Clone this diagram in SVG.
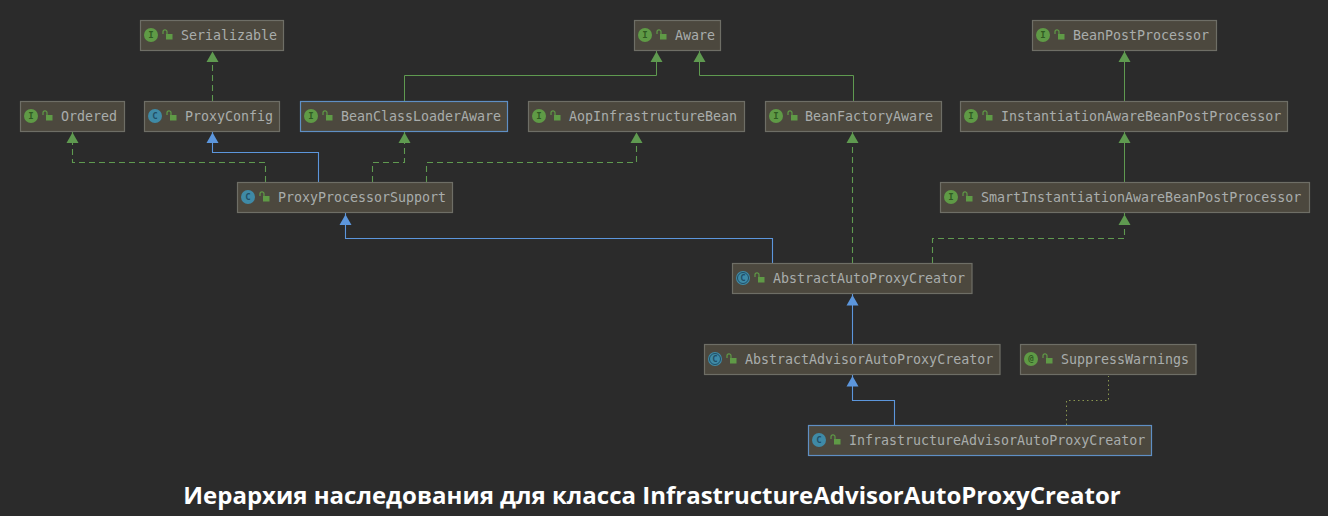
<svg xmlns="http://www.w3.org/2000/svg" width="1328" height="516" viewBox="0 0 1328 516">
<style>
.b{fill:#4c483e;stroke:#6e6e66;stroke-width:1.2}
.s{fill:#4c483e;stroke:#5f8fc4;stroke-width:1.2}
.t{font-family:"DejaVu Sans Mono","Liberation Mono",monospace;font-size:13.3px;fill:#a9adac}
.k{font-family:"DejaVu Sans Mono",monospace;font-size:9px;font-weight:bold;text-anchor:middle}
.ci{fill:#5f9a46}.cc{fill:#3f8aa6}
.ki{fill:#2f5a22}.kc{fill:#1f4f66}
.lk{fill:#5f9a46}.ls{fill:none;stroke:#5f9a46;stroke-width:1.2}
.g{fill:none;stroke:#5f9a50;stroke-width:1.1;stroke-dasharray:6 4}
.gs{fill:none;stroke:#5f9a50;stroke-width:1}
.u{fill:none;stroke:#5c96dc;stroke-width:1.1}
.d{fill:none;stroke:#8a9650;stroke-width:1;stroke-dasharray:1.5 3}
.ah{fill:#5f9a50}.ab{fill:#5c96dc}
.cap{font-family:"Open Sans","Noto Sans",sans-serif;font-size:24px;font-weight:700;fill:#fff;text-anchor:middle}
</style>
<defs>
<g id="lock"><rect class="lk" x="4" y="-1" width="6.5" height="5.5"/><path class="ls" d="M1 -1v-2.2a2 2 0 0 1 4 0v2.2"/></g>
</defs>
<rect width="1328" height="516" fill="#2b2b2b"/>
<g id="connectors">
<path class="g" d="M212.500 101V50"/><path class="ah" d="M212.500 51.500l-6 10.500h12z"/>
<path class="g" d="M265.500 182V162.500H72.500V131"/><path class="ah" d="M72.500 132.500l-6 10.500h12z"/>
<path class="u" d="M318.500 182V152.500H212.500V131"/><path class="ab" d="M212.500 132.500l-6 10.500h12z"/>
<path class="g" d="M372.500 182V162.500H404.500V131"/><path class="ah" d="M404.500 132.500l-6 10.500h12z"/>
<path class="g" d="M426.500 182V162.500H636.500V131"/><path class="ah" d="M636.500 132.500l-6 10.500h12z"/>
<path class="gs" d="M404.500 101V75.500H656.500V50"/><path class="ah" d="M656.500 51.500l-6 10.500h12z"/>
<path class="gs" d="M853.500 101V75.500H699.500V50"/><path class="ah" d="M699.500 51.500l-6 10.500h12z"/>
<path class="gs" d="M1124.500 101V50"/><path class="ah" d="M1124.500 51.500l-6 10.500h12z"/>
<path class="gs" d="M1124.500 182V131"/><path class="ah" d="M1124.500 132.500l-6 10.500h12z"/>
<path class="g" d="M852.500 263V131"/><path class="ah" d="M852.500 132.500l-6 10.500h12z"/>
<path class="g" d="M932.500 263V238.500H1124.500V213"/><path class="ah" d="M1124.500 214.500l-6 10.500h12z"/>
<path class="u" d="M772.500 263V238.500H345.500V213"/><path class="ab" d="M345.500 214.500l-6 10.500h12z"/>
<path class="u" d="M852.500 344V294"/><path class="ab" d="M852.500 295l-6 10.500h12z"/>
<path class="u" d="M894.500 425V400.500H852.500V375"/><path class="ab" d="M852.500 376l-6 10.500h12z"/>
<path class="d" d="M1066.500 425V400.500H1108.500V376"/>
</g>
<g id="serializable"><rect class="b" x="140.500" y="20.500" width="143" height="30"/><circle class="ci" cx="151" cy="35" r="7"/><text class="k ki" x="151" y="38.200">I</text><use href="#lock" x="162" y="35"/><text class="t" x="181" y="40">Serializable</text></g>
<g id="aware"><rect class="b" x="634.500" y="20.500" width="86" height="30"/><circle class="ci" cx="645" cy="35" r="7"/><text class="k ki" x="645" y="38.200">I</text><use href="#lock" x="656" y="35"/><text class="t" x="675" y="40">Aware</text></g>
<g id="beanpostprocessor"><rect class="b" x="1032.500" y="20.500" width="184" height="30"/><circle class="ci" cx="1043" cy="35" r="7"/><text class="k ki" x="1043" y="38.200">I</text><use href="#lock" x="1054" y="35"/><text class="t" x="1073" y="40">BeanPostProcessor</text></g>
<g id="ordered"><rect class="b" x="20.500" y="101.500" width="104" height="30"/><circle class="ci" cx="31" cy="116" r="7"/><text class="k ki" x="31" y="119.200">I</text><use href="#lock" x="42" y="116"/><text class="t" x="61" y="121">Ordered</text></g>
<g id="proxyconfig"><rect class="b" x="144.500" y="101.500" width="135" height="30"/><circle class="cc" cx="155" cy="116" r="7"/><text class="k kc" x="155" y="119.200">C</text><use href="#lock" x="166" y="116"/><text class="t" x="185" y="121">ProxyConfig</text></g>
<g id="beanclassloaderaware"><rect class="s" x="300.500" y="101.500" width="207" height="30"/><circle class="ci" cx="311" cy="116" r="7"/><text class="k ki" x="311" y="119.200">I</text><use href="#lock" x="322" y="116"/><text class="t" x="341" y="121">BeanClassLoaderAware</text></g>
<g id="aopinfrastructurebean"><rect class="b" x="528.500" y="101.500" width="216" height="30"/><circle class="ci" cx="539" cy="116" r="7"/><text class="k ki" x="539" y="119.200">I</text><use href="#lock" x="550" y="116"/><text class="t" x="569" y="121">AopInfrastructureBean</text></g>
<g id="beanfactoryaware"><rect class="b" x="765.500" y="101.500" width="176" height="30"/><circle class="ci" cx="776" cy="116" r="7"/><text class="k ki" x="776" y="119.200">I</text><use href="#lock" x="787" y="116"/><text class="t" x="805" y="121">BeanFactoryAware</text></g>
<g id="instantiationaware"><rect class="b" x="960.500" y="101.500" width="327" height="30"/><circle class="ci" cx="971" cy="116" r="7"/><text class="k ki" x="971" y="119.200">I</text><use href="#lock" x="982" y="116"/><text class="t" x="1001" y="121">InstantiationAwareBeanPostProcessor</text></g>
<g id="proxyprocessorsupport"><rect class="b" x="237.500" y="182.500" width="215" height="30"/><circle class="cc" cx="248" cy="197" r="7"/><text class="k kc" x="248" y="200.200">C</text><use href="#lock" x="259" y="197"/><text class="t" x="278" y="202">ProxyProcessorSupport</text></g>
<g id="smartinstantiationaware"><rect class="b" x="940.500" y="182.500" width="369" height="30"/><circle class="ci" cx="951" cy="197" r="7"/><text class="k ki" x="951" y="200.200">I</text><use href="#lock" x="962" y="197"/><text class="t" x="981" y="202">SmartInstantiationAwareBeanPostProcessor</text></g>
<g id="abstractautoproxycreator"><rect class="b" x="732.500" y="263.500" width="239.500" height="30"/><circle class="cc" cx="743" cy="278" r="7"/><text class="k kc" x="743" y="281.200">C</text><circle cx="743" cy="278" r="5.500" fill="none" stroke="#1f4f66"/><use href="#lock" x="754" y="278"/><text class="t" x="773" y="283">AbstractAutoProxyCreator</text></g>
<g id="abstractadvisorautoproxycreator"><rect class="b" x="704.500" y="344.500" width="295.500" height="30"/><circle class="cc" cx="715" cy="359" r="7"/><text class="k kc" x="715" y="362.200">C</text><circle cx="715" cy="359" r="5.500" fill="none" stroke="#1f4f66"/><use href="#lock" x="726" y="359"/><text class="t" x="745" y="364">AbstractAdvisorAutoProxyCreator</text></g>
<g id="suppresswarnings"><rect class="b" x="1020.500" y="344.500" width="175.500" height="30"/><circle class="ci" cx="1031" cy="359" r="7"/><text class="k ki" x="1031" y="362.200">@</text><use href="#lock" x="1042" y="359"/><text class="t" x="1061" y="364">SuppressWarnings</text></g>
<g id="infrastructureadvisorautoproxycreator"><rect class="s" x="808.500" y="425.500" width="343" height="30"/><circle class="cc" cx="819" cy="440" r="7"/><text class="k kc" x="819" y="443.200">C</text><use href="#lock" x="830" y="440"/><text class="t" x="849" y="445">InfrastructureAdvisorAutoProxyCreator</text></g>
<text class="cap" x="652" y="504">Иерархия наследования для класса InfrastructureAdvisorAutoProxyCreator</text>
</svg>
